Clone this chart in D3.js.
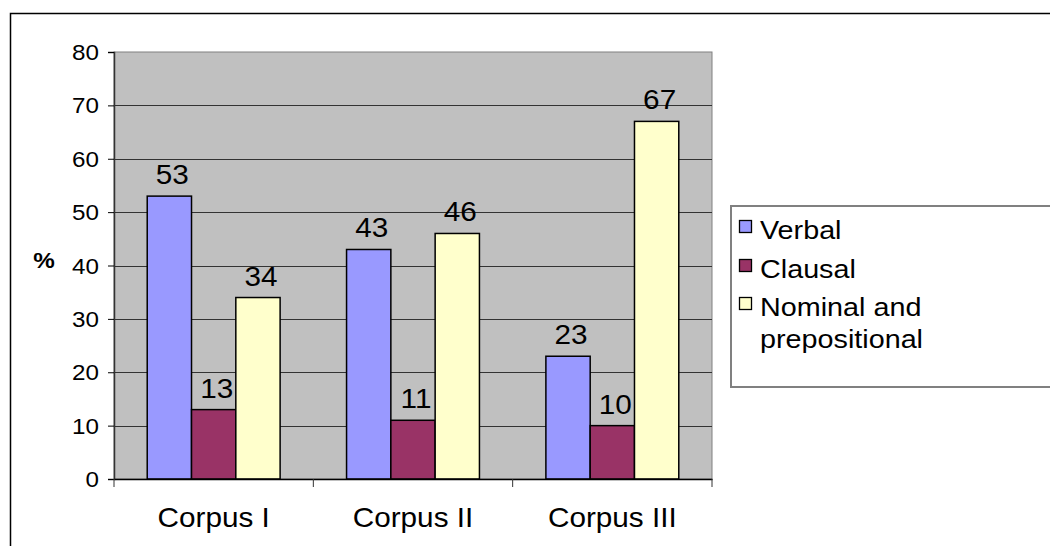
<!DOCTYPE html>
<html>
<head>
<meta charset="utf-8">
<script src="https://cdn.jsdelivr.net/npm/d3@7"></script>
<style>
  html, body { margin: 0; padding: 0; background: #fff; }
  svg { display: block; }
  text { font-family: "Liberation Sans", Arial, sans-serif; fill: #000; }
</style>
</head>
<body>
<svg id="chart" width="1050" height="546"></svg>
<script>
const categories = ["Corpus I", "Corpus II", "Corpus III"];
const seriesNames = ["Verbal", "Clausal", "Nominal and prepositional"];
const verbal = [53, 43, 23];
const clausal = [13, 11, 10];
const nominal = [34, 46, 67];
const yTicks = [0, 10, 20, 30, 40, 50, 60, 70, 80];
const colors = ["#9999FF", "#993366", "#FFFFCC"];

const seriesValues = [verbal, clausal, nominal];
const svg = d3.select("#chart");
const SX = 1.1; // horizontal text stretch seen in reference

function stretchedText(parent, x, y, str, size, anchor, weight, sx) {
  const g = parent.append("g").attr("transform", `translate(${x},${y}) scale(${sx || SX},1)`);
  g.append("text").attr("x", 0).attr("y", 0)
    .attr("text-anchor", anchor || "start")
    .attr("font-size", size)
    .attr("font-weight", weight || "normal")
    .text(str);
  return g;
}

// outer chart border (top and left visible)
svg.append("path")
  .attr("d", "M10.5,546 L10.5,13.5 L1050,13.5")
  .attr("fill", "none").attr("stroke", "#000").attr("stroke-width", 1.5);

const plot = { left: 114, right: 712, top: 52, bottom: 479 };

const x0 = d3.scaleBand().domain(categories).range([plot.left, plot.right]).paddingInner(0).paddingOuter(0);
const x1 = d3.scaleBand().domain(seriesNames).range([0, x0.bandwidth()]).paddingInner(0).paddingOuter(0.75);
const y = d3.scaleLinear().domain([0, 80]).range([plot.bottom, plot.top]);

// plot background
svg.append("rect")
  .attr("x", plot.left).attr("y", plot.top)
  .attr("width", plot.right - plot.left).attr("height", plot.bottom - plot.top)
  .attr("fill", "#C0C0C0").attr("stroke", "#808080").attr("stroke-width", 1);

// gridlines
svg.append("g").selectAll("line").data(yTicks.filter(d => d > 0 && d < 80)).join("line")
  .attr("x1", plot.left).attr("x2", plot.right)
  .attr("y1", d => Math.round(y(d)) + 0.5).attr("y2", d => Math.round(y(d)) + 0.5)
  .attr("stroke", "#333").attr("stroke-width", 1);

// bars
const groups = svg.append("g").selectAll("g").data(categories).join("g")
  .attr("transform", c => `translate(${x0(c)},0)`);
groups.selectAll("rect").data((c, i) => seriesNames.map((s, j) => ({ s, j, v: seriesValues[j][i] }))).join("rect")
  .attr("x", d => x1(d.s)).attr("width", x1.bandwidth())
  .attr("y", d => y(d.v)).attr("height", d => y(0) - y(d.v))
  .attr("fill", d => colors[d.j]).attr("stroke", "#000").attr("stroke-width", 1.5);

// data labels
categories.forEach((c, i) => {
  seriesNames.forEach((s, j) => {
    const v = seriesValues[j][i];
    stretchedText(svg, x0(c) + x1(s) + x1.bandwidth() / 2 + 3, y(v) - 12, String(v), 27, "middle");
  });
});

// y axis
const yAxis = d3.axisLeft(y).tickValues(yTicks).tickSize(6).tickPadding(9);
const yg = svg.append("g").attr("transform", `translate(${plot.left},0)`).call(yAxis);
yg.select(".domain").attr("stroke", "#333").attr("stroke-width", 1.5);
yg.selectAll(".tick line").attr("stroke", "#000");
yg.selectAll(".tick text").remove();
yTicks.forEach(t => stretchedText(svg, plot.left - 15, y(t) + 8, String(t), 22, "end"));

// x axis
const xAxis = d3.axisBottom(x0).tickSize(0).tickFormat("");
const xg = svg.append("g").attr("transform", `translate(0,${plot.bottom})`).call(xAxis);
xg.select(".domain").attr("stroke", "#000").attr("stroke-width", 1.5);
xg.selectAll(".tick").remove();
const boundaries = categories.map(c => x0(c)).concat([plot.right]);
svg.append("g").selectAll("line").data(boundaries).join("line")
  .attr("x1", d => d).attr("x2", d => d)
  .attr("y1", plot.bottom).attr("y2", plot.bottom + 8)
  .attr("stroke", "#333").attr("stroke-width", 1);
categories.forEach(c => stretchedText(svg, x0(c) + x0.bandwidth() / 2, 527, c, 27, "middle"));

// y axis title
stretchedText(svg, 44, 268, "%", 22, "middle", "bold");

// legend
const lg = svg.append("g");
lg.append("rect").attr("x", 731).attr("y", 206).attr("width", 340).attr("height", 181)
  .attr("fill", "#fff").attr("stroke", "#808080").attr("stroke-width", 2);
const legendRows = [
  { lines: ["Verbal"], y: 239 },
  { lines: ["Clausal"], y: 278 },
  { lines: ["Nominal and", "prepositional"], y: 316 }
];
legendRows.forEach((r, i) => {
  lg.append("rect").attr("x", 739.5).attr("y", r.y - 18.5).attr("width", 12).attr("height", 12)
    .attr("fill", colors[i]).attr("stroke", "#000").attr("stroke-width", 1.3);
  r.lines.forEach((ln, k) => stretchedText(lg, 760, r.y + k * 32, ln, 25, "start", "normal", 1.15));
});
</script>
</body>
</html>
